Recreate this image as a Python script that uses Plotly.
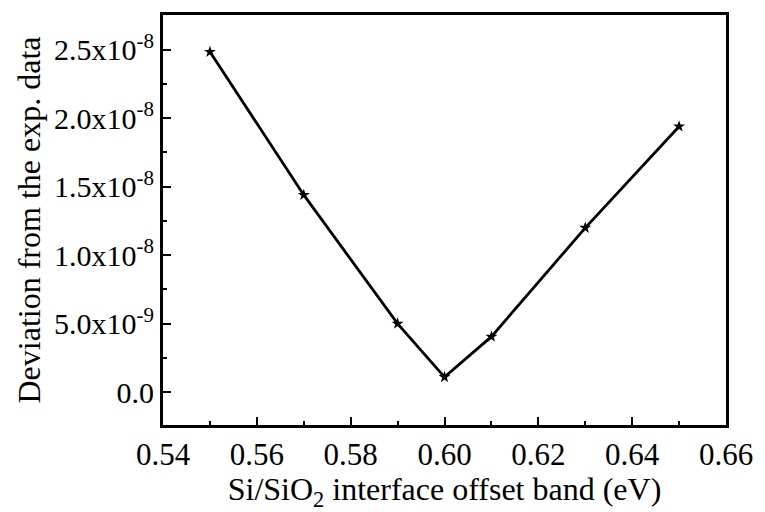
import plotly.graph_objects as go

x_vals = [0.55, 0.57, 0.59, 0.60, 0.61, 0.63, 0.65]
y_vals = [2.485e-8, 1.44e-8, 5.0e-9, 1.1e-9, 4.05e-9, 1.2e-8, 1.94e-8]

x_ticks = [0.54, 0.56, 0.58, 0.60, 0.62, 0.64, 0.66]
x_ticktext = ["0.54", "0.56", "0.58", "0.60", "0.62", "0.64", "0.66"]
y_ticks = [0.0, 5.0e-9, 1.0e-8, 1.5e-8, 2.0e-8, 2.5e-8]
y_ticktext = ["0.0", "5.0x10<sup>-9</sup>", "1.0x10<sup>-8</sup>", "1.5x10<sup>-8</sup>",
              "2.0x10<sup>-8</sup>", "2.5x10<sup>-8</sup>"]

font_family = "Liberation Serif"

fig = go.Figure()
fig.add_trace(go.Scatter(
    x=x_vals, y=y_vals, mode="lines+markers",
    line=dict(color="black", width=2.8),
    marker=dict(symbol="star", size=9, color="black"),
    showlegend=False,
))

fig.update_layout(
    width=765, height=512,
    margin=dict(l=163, r=32, t=15, b=84),
    paper_bgcolor="white", plot_bgcolor="white",
    font=dict(family=font_family, color="black", size=30),
)
fig.update_xaxes(
    range=[0.54, 0.66], tickvals=x_ticks, ticktext=x_ticktext,
    ticks="inside", ticklen=8, tickwidth=2, tickcolor="black",
    minor=dict(ticks="inside", ticklen=4, tickwidth=2, tickcolor="black", dtick=0.01),
    showline=True, linecolor="black", linewidth=3, mirror=True,
    showgrid=False, zeroline=False,
    tickfont=dict(size=31, family=font_family, color="black"),
    title=dict(text="Si/SiO<sub>2</sub> interface offset band (eV)",
               font=dict(size=32, family=font_family, color="black"), standoff=5),
)
fig.update_yaxes(
    range=[-2.4e-9, 2.754e-8], tickvals=y_ticks, ticktext=y_ticktext,
    ticks="inside", ticklen=8, tickwidth=2, tickcolor="black",
    minor=dict(ticks="inside", ticklen=4, tickwidth=2, tickcolor="black",
               tickvals=[2.5e-9, 7.5e-9, 1.25e-8, 1.75e-8, 2.25e-8]),
    showline=True, linecolor="black", linewidth=3, mirror=True,
    showgrid=False, zeroline=False,
    tickfont=dict(size=30, family=font_family, color="black"),
    title=dict(text="Deviation from the exp. data",
               font=dict(size=32, family=font_family, color="black"), standoff=4),
)

fig.write_html("out.html")
